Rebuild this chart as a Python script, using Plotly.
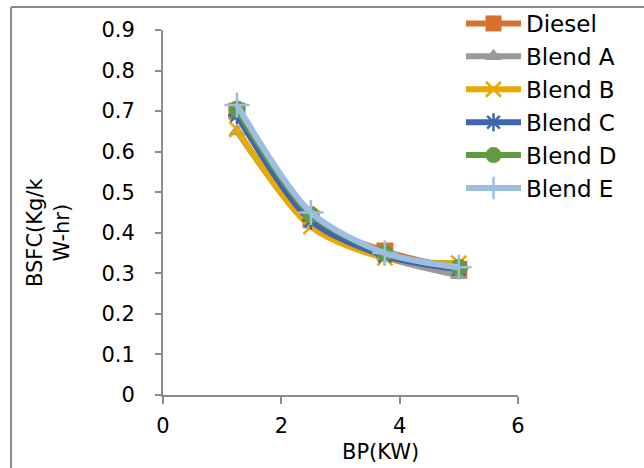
import plotly.graph_objects as go

bp = [1.25, 2.5, 3.75, 5.0]
series_names = ["Diesel", "Blend A", "Blend B", "Blend C", "Blend D", "Blend E"]
diesel = [0.70, 0.435, 0.355, 0.31]
blend_a = [0.65, 0.42, 0.34, 0.295]
blend_b = [0.655, 0.415, 0.338, 0.325]
blend_c = [0.69, 0.43, 0.343, 0.31]
blend_d = [0.705, 0.445, 0.35, 0.315]
blend_e = [0.715, 0.45, 0.35, 0.315]
y_ticks = [0, 0.1, 0.2, 0.3, 0.4, 0.5, 0.6, 0.7, 0.8, 0.9]
y_tick_labels = ["0", "0.1", "0.2", "0.3", "0.4", "0.5", "0.6", "0.7", "0.8", "0.9"]
x_ticks = [0, 2, 4, 6]
x_tick_labels = ["0", "2", "4", "6"]

values = [diesel, blend_a, blend_b, blend_c, blend_d, blend_e]
colors = ["#D8702E", "#9A9A9A", "#E8A900", "#3F66AC", "#629A40", "#9DBDE2"]
symbols = ["square", "triangle-up", "x-thin-open", "asterisk-open", "circle", "cross-thin-open"]
msizes = [17, 15, 15, 15, 17, 18]

FONT = "DejaVu Sans"
W, H = 644, 468
L, R, T, B = 163, 126, 30, 73

fig = go.Figure()
for name, vals, col, sym, ms in zip(series_names, values, colors, symbols, msizes):
    open_sym = sym.endswith("open")
    fig.add_trace(go.Scatter(
        x=bp, y=vals, name=name, mode="lines+markers",
        legendgroup=name,
        line=dict(color=col, width=6, shape="spline", smoothing=0.8),
        marker=dict(symbol=sym, size=ms, color=col,
                    line=dict(color=col, width=2.5 if open_sym else 0)),
    ))

pw = W - L - R
ph = H - T - B
def px_x(p):
    return (p - L) / pw
def px_y(p):
    return (H - B - p) / ph

fig.update_layout(
    width=W, height=H,
    margin=dict(l=L, r=R, t=T, b=B, autoexpand=False),
    paper_bgcolor="white", plot_bgcolor="white",
    font=dict(family=FONT, size=21, color="black"),
    showlegend=True,
    legend=dict(x=px_x(461), y=px_y(2), xanchor="left", yanchor="top",
                font=dict(family=FONT, size=23, color="black"),
                tracegroupgap=0, itemwidth=55, bgcolor="rgba(0,0,0,0)"),
    xaxis=dict(range=[0, 6], tickvals=x_ticks, ticktext=x_tick_labels, showgrid=False, zeroline=False,
               automargin=False,
               showline=True, linecolor="#8C8C8C", linewidth=2,
               ticks="outside", ticklen=7, tickwidth=2, tickcolor="#8C8C8C",
               tickfont=dict(family=FONT, size=21), ticklabelstandoff=4),
    yaxis=dict(range=[0, 0.9], tickvals=y_ticks, ticktext=y_tick_labels, showgrid=False, zeroline=False,
               automargin=False,
               showline=True, linecolor="#8C8C8C", linewidth=2,
               ticks="outside", ticklen=6, tickwidth=2, tickcolor="#8C8C8C",
               tickfont=dict(family=FONT, size=21), ticklabelstandoff=16),
    annotations=[
        dict(text="BP(KW)", xref="paper", yref="paper", x=px_x(380), y=px_y(452),
             xanchor="center", yanchor="middle", showarrow=False,
             font=dict(family=FONT, size=21)),
        dict(text="BSFC(Kg/k<br>W-hr)", xref="paper", yref="paper", x=px_x(48), y=px_y(233),
             xanchor="center", yanchor="middle", showarrow=False, textangle=-90,
             font=dict(family=FONT, size=21)),
    ],
    shapes=[
        dict(type="line", xref="paper", yref="paper", x0=px_x(11), x1=px_x(650),
             y0=px_y(7), y1=px_y(7), line=dict(color="#8C8C8C", width=2), layer="above"),
        dict(type="line", xref="paper", yref="paper", x0=px_x(11), x1=px_x(11),
             y0=px_y(7), y1=px_y(470), line=dict(color="#8C8C8C", width=2), layer="above"),
    ],
)

fig.write_html("out.html", config={"displayModeBar": False},
               post_script="document.body.style.margin='0px';")
